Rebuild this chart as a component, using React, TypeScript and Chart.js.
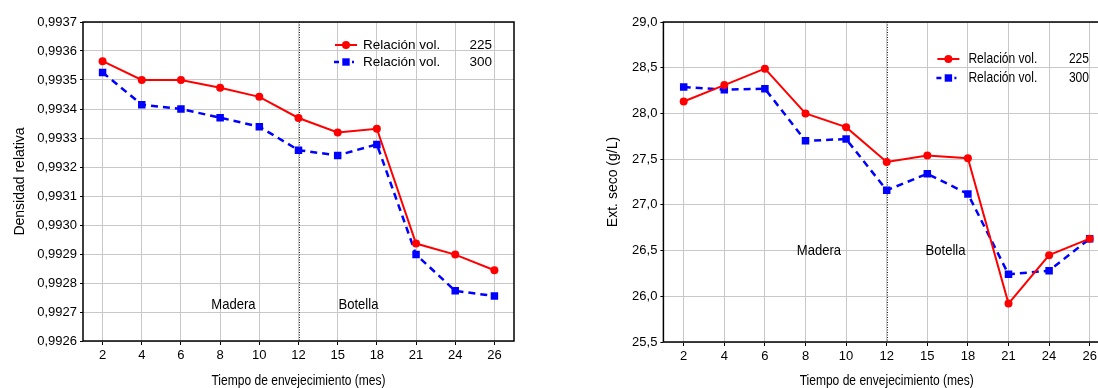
import React, { useEffect, useRef } from 'react';
import { Chart, registerables } from 'chart.js';
Chart.register(...registerables);

// ---- data ----
const months = ['2', '4', '6', '8', '10', '12', '15', '18', '21', '24', '26'];
const densidad225 = [0.993565, 0.9935, 0.9935, 0.993473, 0.993442, 0.993369, 0.993319, 0.993332, 0.992936, 0.992898, 0.992844];
const densidad300 = [0.993526, 0.993415, 0.9934, 0.99337, 0.993339, 0.993258, 0.99324, 0.993278, 0.992898, 0.992773, 0.992755];
const extSeco225 = [28.13, 28.31, 28.49, 28.0, 27.85, 27.47, 27.54, 27.51, 25.92, 26.45, 26.63];
const extSeco300 = [28.29, 28.26, 28.27, 27.7, 27.72, 27.16, 27.34, 27.12, 26.24, 26.28, 26.63];
const densidadTicks = [0.9926, 0.9927, 0.9928, 0.9929, 0.993, 0.9931, 0.9932, 0.9933, 0.9934, 0.9935, 0.9936, 0.9937];
const extSecoTicks = [25.5, 26.0, 26.5, 27.0, 27.5, 28.0, 28.5, 29.0];
const seriesNames = ['Relación vol.', 'Relación vol.'];
const seriesValues = ['225', '300'];
const phaseNames = ['Madera', 'Botella'];
const xTitle = 'Tiempo de envejecimiento (mes)';
const dividerIndex = 5; // month 12
const densidadPhasePos = [[3.34, 0.992723], [6.53, 0.992723]];
const extSecoPhasePos = [[3.33, 26.5], [6.45, 26.5]];

const REGULAR = 'Arial, "Liberation Sans", sans-serif';

type Cfg = {
  data225: number[];
  data300: number[];
  ticks: number[];
  decimals: number;
  yTitle: string;
  yAxisWidth: number;
  yTitlePad: number;
  xAxisHeight: number;
  xTitleY: number;
  padding: { top: number; right: number; left: number; bottom: number };
  phasePos: number[][];
  legend: { markerDx: number; textDx: number; rightDx: number; row1: number; row2: number; size: number; squeeze: number };
};

function squeezedText(ctx: any, text: string, x: number, y: number, size: number, squeeze: number, align: string) {
  ctx.save();
  ctx.translate(x, y);
  ctx.scale(squeeze, 1);
  ctx.font = size + 'px ' + REGULAR;
  ctx.textAlign = align;
  ctx.textBaseline = 'middle';
  ctx.fillStyle = '#000';
  ctx.fillText(text, 0, 0);
  ctx.restore();
}

function makeChart(canvas: HTMLCanvasElement, c: Cfg) {
  const overlay = {
    id: 'overlay',
    beforeDatasetsDraw(chart: any) {
      const { ctx, chartArea: a, scales } = chart;
      ctx.save();
      const x = Math.round(scales.x.getPixelForValue(dividerIndex)) + 0.5;
      ctx.strokeStyle = '#222';
      ctx.lineWidth = 1;
      ctx.setLineDash([1, 1.5]);
      ctx.beginPath();
      ctx.moveTo(x, a.top);
      ctx.lineTo(x, a.bottom);
      ctx.stroke();
      ctx.setLineDash([]);
      ctx.strokeStyle = '#000';
      ctx.lineWidth = 1.5;
      ctx.strokeRect(a.left, a.top, a.right - a.left, a.bottom - a.top);
      ctx.restore();
      // phase labels
      c.phasePos.forEach((p, i) => {
        squeezedText(ctx, phaseNames[i], scales.x.getPixelForValue(p[0]), scales.y.getPixelForValue(p[1]), 14.5, 0.9, 'center');
      });
      // x title
      squeezedText(ctx, xTitle, (a.left + a.right) / 2, c.xTitleY, 14.5, 0.83, 'center');
    },
    afterDatasetsDraw(chart: any) {
      const { ctx, chartArea: a } = chart;
      const L = c.legend;
      ctx.save();
      const mx = a.left + L.markerDx;
      const rows = [a.top + L.row1, a.top + L.row2];
      // red row
      ctx.strokeStyle = '#ff0000';
      ctx.lineWidth = 2;
      ctx.beginPath();
      ctx.moveTo(mx - 11, rows[0]);
      ctx.lineTo(mx + 11, rows[0]);
      ctx.stroke();
      ctx.fillStyle = '#ff0000';
      ctx.beginPath();
      ctx.arc(mx, rows[0], 4, 0, Math.PI * 2);
      ctx.fill();
      // blue row
      ctx.strokeStyle = '#0000ff';
      ctx.lineWidth = 2.5;
      ctx.setLineDash([5, 4]);
      ctx.beginPath();
      ctx.moveTo(mx - 12, rows[1]);
      ctx.lineTo(mx + 8, rows[1]);
      ctx.stroke();
      ctx.setLineDash([]);
      ctx.fillStyle = '#0000ff';
      ctx.fillRect(mx - 3.7, rows[1] - 3.7, 7.4, 7.4);
      ctx.restore();
      rows.forEach((y, i) => {
        squeezedText(ctx, seriesNames[i], a.left + L.textDx, y, L.size, L.squeeze, 'left');
        squeezedText(ctx, seriesValues[i], a.right - L.rightDx, y, L.size, L.squeeze, 'right');
      });
    },
  };

  return new Chart(canvas, {
    type: 'line',
    data: {
      labels: months,
      datasets: [
        {
          label: seriesNames[0] + ' ' + seriesValues[0],
          data: c.data225,
          borderColor: '#ff0000',
          backgroundColor: '#ff0000',
          borderWidth: 2,
          pointStyle: 'circle',
          pointRadius: 4,
          pointBorderWidth: 0,
          pointBackgroundColor: '#ff0000',
          tension: 0,
          order: 1,
        },
        {
          label: seriesNames[1] + ' ' + seriesValues[1],
          data: c.data300,
          borderColor: '#0000ff',
          backgroundColor: '#0000ff',
          borderWidth: 2.5,
          borderDash: [7, 5],
          pointStyle: 'rect',
          pointRadius: 5.3,
          pointBorderWidth: 0,
          pointBackgroundColor: '#0000ff',
          tension: 0,
          order: 2,
        },
      ],
    },
    options: {
      animation: false,
      responsive: false,
      maintainAspectRatio: false,
      layout: { padding: c.padding },
      plugins: { legend: { display: false }, tooltip: { enabled: false }, title: { display: false } },
      scales: {
        x: {
          type: 'category',
          offset: true,
          grid: { color: '#c8c8c8', lineWidth: 1, offset: false, tickLength: 4, tickColor: '#000' },
          border: { display: false },
          ticks: { color: '#000', font: { size: 13, family: REGULAR }, padding: 3, maxRotation: 0, autoSkip: false },
          title: { display: false },
          afterFit(scale: any) {
            scale.height = c.xAxisHeight;
          },
        },
        y: {
          type: 'linear',
          min: c.ticks[0],
          max: c.ticks[c.ticks.length - 1],
          grid: { color: '#c8c8c8', lineWidth: 1, tickLength: 3, tickColor: '#000' },
          border: { display: false },
          afterBuildTicks(scale: any) {
            scale.ticks = c.ticks.map((v) => ({ value: v }));
          },
          ticks: {
            color: '#000',
            font: { size: 13, family: REGULAR },
            padding: 3,
            callback: (v: any) => Number(v).toFixed(c.decimals).replace('.', ','),
          },
          title: {
            display: true,
            text: c.yTitle,
            color: '#000',
            font: { size: 14, family: REGULAR },
            padding: { top: c.yTitlePad, bottom: 0 },
          },
          afterFit(scale: any) {
            scale.width = c.yAxisWidth;
          },
        },
      },
    },
    plugins: [overlay],
  });
}

function ChartCanvas({ cfg, left, width }: { cfg: Cfg; left: number; width: number }) {
  const ref = useRef<HTMLCanvasElement>(null);
  useEffect(() => {
    if (!ref.current) return;
    const ch = makeChart(ref.current, cfg);
    return () => ch.destroy();
  }, []);
  return (
    <canvas
      ref={ref}
      width={width}
      height={388}
      style={{ position: 'absolute', left, top: 0, width, height: 388 }}
    />
  );
}

const leftCfg: Cfg = {
  data225: densidad225,
  data300: densidad300,
  ticks: densidadTicks,
  decimals: 4,
  yTitle: 'Densidad relativa',
  yAxisWidth: 83,
  yTitlePad: 12,
  xAxisHeight: 47,
  xTitleY: 381,
  padding: { top: 22, right: 46, left: 0, bottom: 0 },
  phasePos: densidadPhasePos,
  legend: { markerDx: 263, textDx: 280, rightDx: 22, row1: 23, row2: 40, size: 13.5, squeeze: 1 },
};

const rightCfg: Cfg = {
  data225: extSeco225,
  data300: extSeco300,
  ticks: extSecoTicks,
  decimals: 1,
  yTitle: 'Ext. seco (g/L)',
  yAxisWidth: 83.4,
  yTitlePad: 25,
  xAxisHeight: 46,
  xTitleY: 381,
  padding: { top: 22, right: 30, left: 0, bottom: 0 },
  phasePos: extSecoPhasePos,
  legend: { markerDx: 285, textDx: 305, rightDx: 21, row1: 37, row2: 56, size: 14, squeeze: 0.86 },
};

export default function App() {
  return (
    <div
      style={{
        position: 'fixed',
        left: 0,
        top: 0,
        width: 1098,
        height: 388,
        overflow: 'hidden',
        background: '#fff',
      }}
    >
      <ChartCanvas cfg={leftCfg} left={0} width={560} />
      <ChartCanvas cfg={rightCfg} left={580} width={560} />
    </div>
  );
}
